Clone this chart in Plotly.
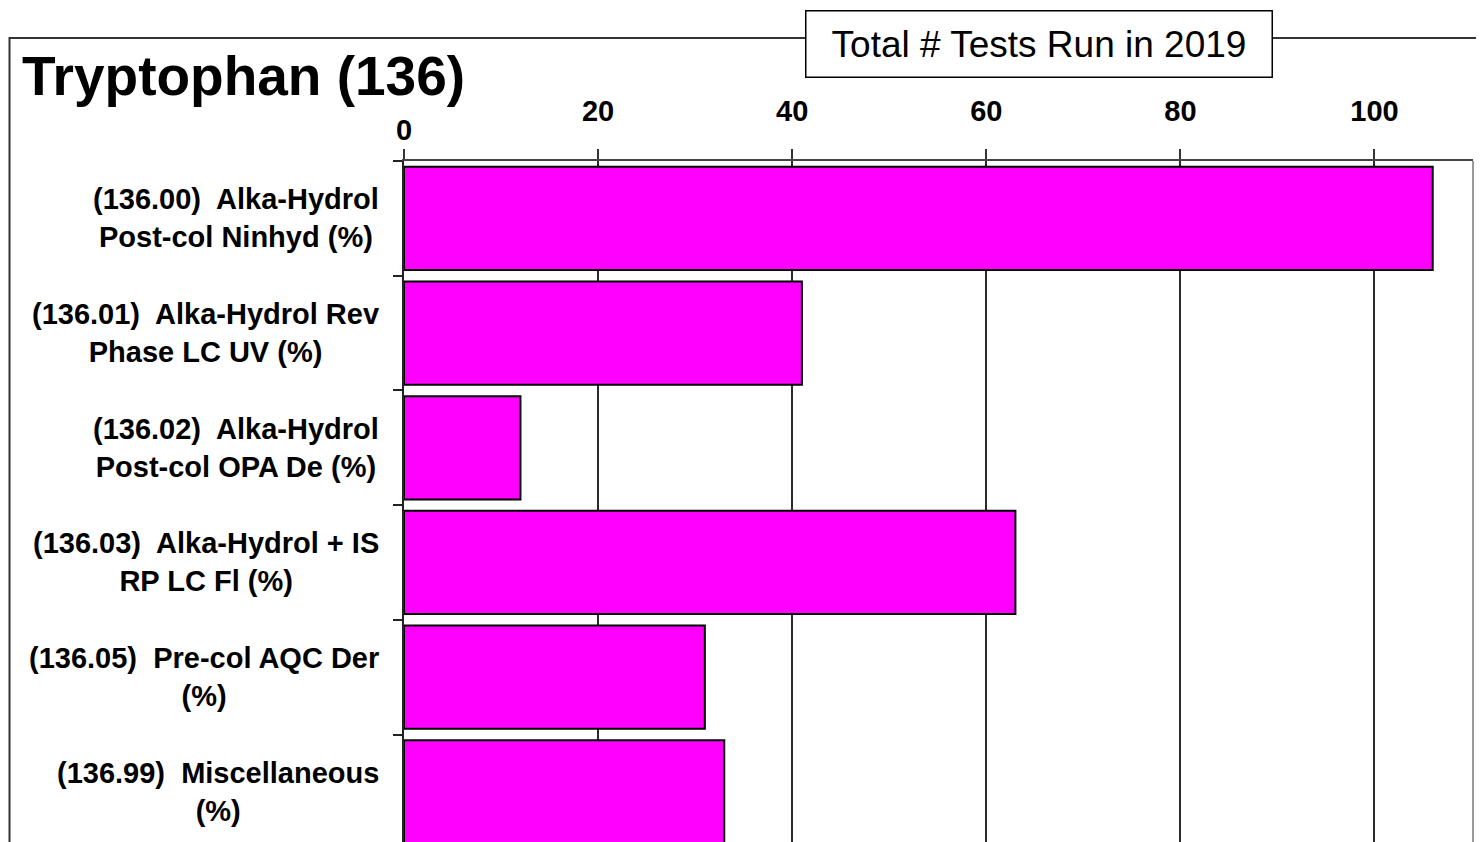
import plotly.graph_objects as go

# data
methods = [
    "(136.00)  Alka-Hydrol<br>Post-col Ninhyd (%)",
    "(136.01)  Alka-Hydrol Rev<br>Phase LC UV (%)",
    "(136.02)  Alka-Hydrol<br>Post-col OPA De (%)",
    "(136.03)  Alka-Hydrol + IS<br>RP LC Fl (%)",
    "(136.05)  Pre-col AQC Der<br>(%)",
    "(136.99)  Miscellaneous<br>(%)",
]
tests_run = [106, 41, 12, 63, 31, 33]
x_ticks = [0, 20, 40, 60, 80, 100]
title_text = "Tryptophan (136)"
box_text = "Total # Tests Run in 2019"

# page is 1484x842, the html body adds an 8px margin
OFF = 8
W, H = 1484 - OFF, 842 - OFF
L, R, T, B = 404 - OFF, 11, 161 - OFF, 0
PW = W - L - R
PH = H - T - B
FONT = "Liberation Sans, Arial, sans-serif"


def px_x(p):
    # page pixel -> paper x
    return (p - OFF - L) / PW


def px_y(p):
    # page pixel -> paper y
    return (H - B - (p - OFF)) / PH


fig = go.Figure()
fig.add_trace(go.Bar(
    x=tests_run, y=methods, orientation="h",
    marker=dict(color="#FF00FF", line=dict(color="black", width=2)),
    showlegend=False,
))

fig.update_layout(
    width=W, height=H,
    margin=dict(l=L, r=R, t=T, b=B, pad=0),
    paper_bgcolor="white", plot_bgcolor="white",
    bargap=0.1,
    font=dict(family=FONT, color="black"),
)

fig.update_xaxes(
    side="top", range=[0, 110.15],
    tickvals=x_ticks, ticktext=["" if v == 0 else str(v) for v in x_ticks],
    tickfont=dict(size=29, family=FONT, weight="bold", color="black"),
    ticks="outside", ticklen=10, tickcolor="#333", tickwidth=1.5,
    ticklabelstandoff=16,
    showgrid=True, gridcolor="#2a2a2a", gridwidth=2,
    showline=True, linecolor="#444", linewidth=2,
    zeroline=False,
)
fig.update_yaxes(
    categoryorder="array", categoryarray=methods,
    range=[5.437, -0.5],
    showticklabels=False,
    ticks="outside", tickson="boundaries", ticklen=9, tickcolor="#222", tickwidth=1.5,
    showgrid=False, showline=True, linecolor="#222", linewidth=2,
)

# outer frame and right plot border
fig.add_shape(type="rect", xref="paper", yref="paper",
              x0=px_x(9.5), x1=px_x(1484 + 20), y0=px_y(842 + 20), y1=px_y(38),
              line=dict(color="#333", width=2), layer="below")
fig.add_shape(type="line", xref="paper", yref="paper",
              x0=1, x1=1, y0=0, y1=1, line=dict(color="#999", width=2))

# category labels, centred lines
for m in methods:
    fig.add_annotation(x=px_x(381), xref="paper", y=m, yref="y",
                       text=m, showarrow=False, xanchor="right", align="center",
                       font=dict(size=29, family=FONT, weight="bold", color="black"))

# the lone "0" tick label sits lower than the others
fig.add_annotation(x=0, xref="x", y=1, yref="paper", yshift=31,
                   text="0", showarrow=False, xanchor="center", yanchor="middle",
                   font=dict(size=29, family=FONT, weight="bold", color="black"))

fig.add_annotation(x=px_x(20), xref="paper", y=px_y(76), yref="paper",
                   text=title_text, showarrow=False, xanchor="left", yanchor="middle",
                   font=dict(size=55, family=FONT, weight="bold", color="black"))

fig.add_annotation(x=px_x(1038.5), xref="paper", y=px_y(43.5), yref="paper",
                   text=box_text, showarrow=False, xanchor="center", yanchor="middle",
                   width=463, height=63, borderpad=1,
                   bgcolor="white", bordercolor="black", borderwidth=1.5,
                   font=dict(size=37, family=FONT, color="black"))

fig.write_html("out.html")
